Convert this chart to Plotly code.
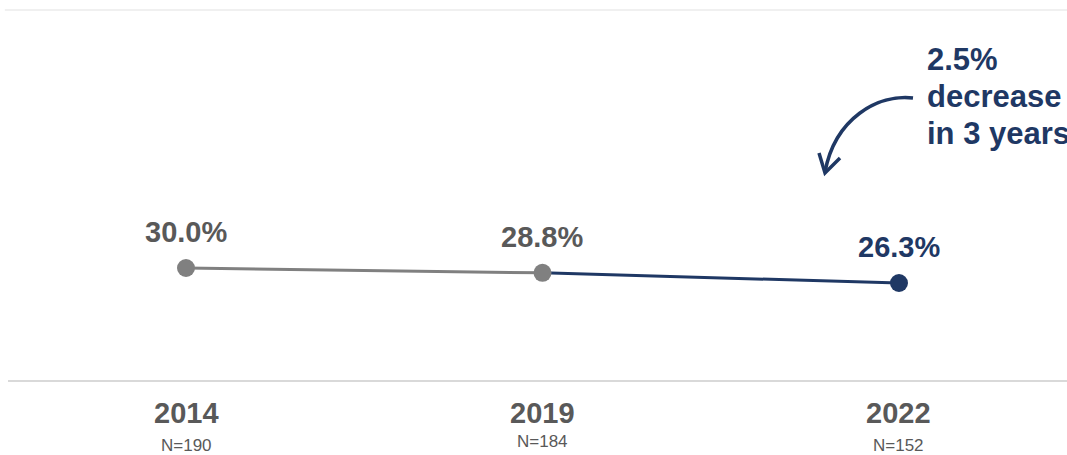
import plotly.graph_objects as go

years = ["2014", "2019", "2022"]
values = [30.0, 28.8, 26.3]
n_labels = ["N=190", "N=184", "N=152"]
value_labels = ["30.0%", "28.8%", "26.3%"]
callout_lines = ["2.5%", "decrease", "in 3 years"]

GRAY = "#808080"
TEXT_GRAY = "#595959"
NAVY = "#1f3864"
FONT = "Liberation Sans, Arial, sans-serif"

OFF = 0  # page offset of the figure
W, H = 1067, 455
ML, MR, MT, MB = 8, 0, 10, 75
PW, PH = W - ML - MR, H - MT - MB

def px(x, y):
    """page pixel -> paper coords"""
    fx, fy = x - OFF, y - OFF
    return (fx - ML) / PW, (H - MB - fy) / PH

xs = list(range(len(years)))

fig = go.Figure()
fig.add_trace(go.Scatter(x=xs[1:], y=values[1:], mode="lines",
                         line=dict(color=NAVY, width=3), hoverinfo="skip"))
fig.add_trace(go.Scatter(x=xs[:2], y=values[:2], mode="lines+markers",
                         line=dict(color=GRAY, width=3),
                         marker=dict(color=GRAY, size=18), hoverinfo="skip"))
fig.add_trace(go.Scatter(x=xs[2:], y=values[2:], mode="markers",
                         marker=dict(color=NAVY, size=18), hoverinfo="skip"))

label_colors = [TEXT_GRAY, TEXT_GRAY, NAVY]
for i, (v, lab) in enumerate(zip(values, value_labels)):
    fig.add_annotation(x=xs[i], y=v, text=lab, showarrow=False, yshift=36,
                       xanchor="center", yanchor="middle",
                       font=dict(family=FONT, size=29, color=label_colors[i], weight="bold"))

for i, (yr, n) in enumerate(zip(years, n_labels)):
    fig.add_annotation(x=xs[i], y=0, yref="paper", text=yr, showarrow=False,
                       yshift=-33, xanchor="center", yanchor="middle",
                       font=dict(family=FONT, size=29, color=TEXT_GRAY, weight="bold"))
    fig.add_annotation(x=xs[i], y=0, yref="paper", text=n, showarrow=False,
                       yshift=-65 if i != 1 else -61, xanchor="center", yanchor="middle",
                       font=dict(family=FONT, size=17, color=TEXT_GRAY))

for j, line in enumerate(callout_lines):
    xp, yp = px(925, 60 + 36.5 * j)
    fig.add_annotation(x=xp, y=yp, xref="paper", yref="paper", text=line,
                       showarrow=False, xanchor="left", yanchor="middle",
                       font=dict(family=FONT, size=31, color=NAVY, weight="bold"))

# curved arrow
p0, c1, c2, p3 = [px(*p) for p in [(913, 98), (878, 94), (835, 118), (825, 172)]]
fig.add_shape(type="path", xref="paper", yref="paper",
              path=f"M {p0[0]},{p0[1]} C {c1[0]},{c1[1]} {c2[0]},{c2[1]} {p3[0]},{p3[1]}",
              line=dict(color=NAVY, width=3.5))
a, b, c = [px(*p) for p in [(819, 153), (825, 173), (840, 158)]]
fig.add_shape(type="path", xref="paper", yref="paper",
              path=f"M {a[0]},{a[1]} L {b[0]},{b[1]} L {c[0]},{c[1]}",
              line=dict(color=NAVY, width=3.5))

# faint top rule
fig.add_shape(type="line", xref="paper", yref="paper", x0=-0.003, x1=1, y0=1, y1=1,
              line=dict(color="#f0f0f0", width=2))

fig.update_layout(
    width=W, height=H,
    margin=dict(l=ML, r=MR, t=MT, b=MB),
    paper_bgcolor="white", plot_bgcolor="white",
    showlegend=False,
    xaxis=dict(range=[-0.4993, 2.4713], showgrid=False, zeroline=False,
               showticklabels=False, ticks="", showline=True,
               linecolor="#d9d9d9", linewidth=2, fixedrange=True),
    yaxis=dict(range=[2.35, 93.7], showgrid=False, zeroline=False,
               showticklabels=False, ticks="", showline=False, fixedrange=True),
)

fig.write_html("out.html",
               config={"displayModeBar": False},
               post_script="document.body.style.margin='0';"
                           "document.documentElement.style.overflow='hidden';")
